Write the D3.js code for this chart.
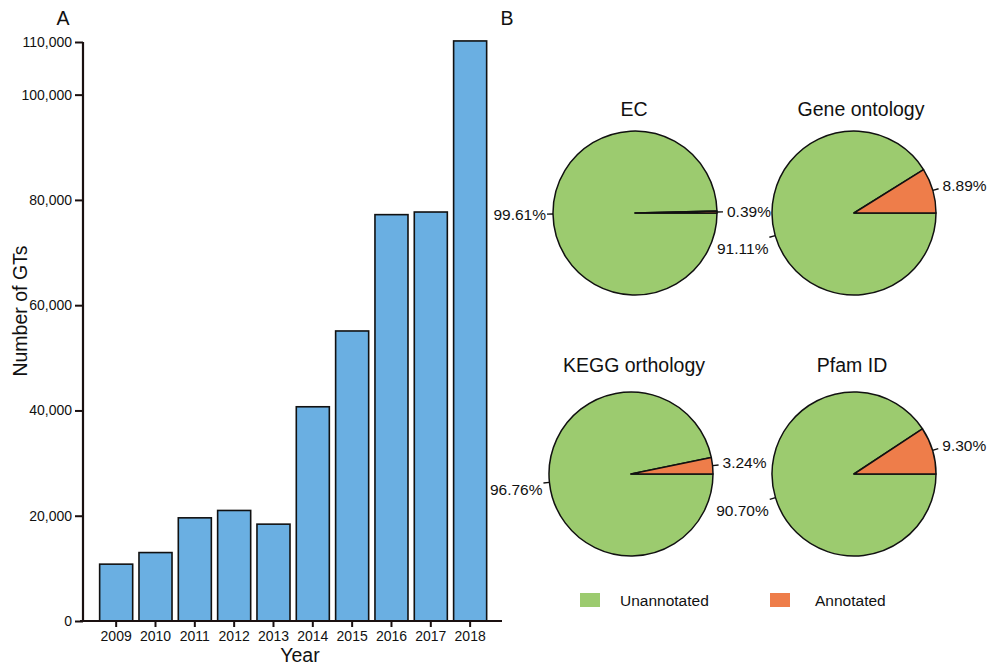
<!DOCTYPE html>
<html>
<head>
<meta charset="utf-8">
<script src="https://cdn.jsdelivr.net/npm/d3@7"></script>
<style>
  html, body { margin: 0; padding: 0; background: #fff; }
  svg { display: block; font-family: "Liberation Sans", Arial, Helvetica, sans-serif; }
</style>
</head>
<body>
<svg id="chart" width="988" height="665"></svg>
<script>
// ---------- data ----------
const years = ["2009","2010","2011","2012","2013","2014","2015","2016","2017","2018"];
const gtCounts = [10800, 13000, 19600, 21000, 18400, 40700, 55100, 77200, 77700, 110200];
const yTickValues = [0, 20000, 40000, 60000, 80000, 100000, 110000];

const pieTitles = ["EC", "Gene ontology", "KEGG orthology", "Pfam ID"];
const unannotatedPct = [99.61, 91.11, 96.76, 90.70];
const annotatedPct = [0.39, 8.89, 3.24, 9.30];
const legendLabels = ["Unannotated", "Annotated"];

const blue = "#6aafe2", green = "#9ccb6f", orange = "#ee7d4a";

const svg = d3.select("#chart");

// ---------- panel A: bar chart ----------
const x = d3.scaleBand().domain(years).range([96.5, 489.8]).paddingInner(0.16).paddingOuter(0.08);
const y = d3.scaleLinear().domain([0, 110000]).range([621, 42]);

svg.append("g").selectAll("rect").data(years).join("rect")
  .attr("x", d => x(d))
  .attr("y", (d, i) => y(gtCounts[i]))
  .attr("width", x.bandwidth())
  .attr("height", (d, i) => y(0) - y(gtCounts[i]))
  .attr("fill", blue)
  .attr("stroke", "#111")
  .attr("stroke-width", 1.6);

const yAxis = svg.append("g").attr("transform", "translate(83,0)")
  .call(d3.axisLeft(y).tickValues(yTickValues).tickSize(8).tickPadding(3).tickFormat(d3.format(",")));
yAxis.select(".domain").attr("stroke", "#1a1010").attr("stroke-width", 2.2).attr("d", "M0,621V42");
yAxis.selectAll(".tick line").attr("stroke", "#1a1010").attr("stroke-width", 2);
yAxis.selectAll(".tick text").attr("font-size", 14).attr("fill", "#111").attr("font-family", "Liberation Sans, Arial, sans-serif");

const xAxis = svg.append("g").attr("transform", "translate(0,621)")
  .call(d3.axisBottom(x).tickSize(6).tickPadding(4));
xAxis.select(".domain").attr("stroke", "#1a1010").attr("stroke-width", 2.2).attr("d", "M80,0H502");
xAxis.selectAll(".tick line").attr("stroke", "#1a1010").attr("stroke-width", 2);
xAxis.selectAll(".tick text").attr("font-size", 14).attr("fill", "#111").attr("font-family", "Liberation Sans, Arial, sans-serif");

svg.append("text").attr("x", 300).attr("y", 662).attr("text-anchor", "middle")
  .attr("font-size", 19.5).attr("fill", "#111").text("Year");
svg.append("text").attr("transform", "translate(27,311) rotate(-90)").attr("text-anchor", "middle")
  .attr("font-size", 19.5).attr("fill", "#111").text("Number of GTs");

svg.append("text").attr("x", 63).attr("y", 25).attr("text-anchor", "middle")
  .attr("font-size", 19.5).attr("fill", "#111").text("A");
svg.append("text").attr("x", 507).attr("y", 25).attr("text-anchor", "middle")
  .attr("font-size", 19.5).attr("fill", "#111").text("B");

// ---------- panel B: pies ----------
const pieCenters = [[635, 213], [854, 213], [631, 474], [854, 474]];
const titleY = [116, 116, 372, 372];
const titleX = [634, 861, 634, 852];
const R = 82;
const pie = d3.pie().sort(null).value(d => d.v).startAngle(Math.PI / 2).endAngle(Math.PI / 2 + 2 * Math.PI);
const arc = d3.arc().innerRadius(0).outerRadius(R);

pieTitles.forEach((t, i) => {
  const g = svg.append("g").attr("transform", `translate(${pieCenters[i][0]},${pieCenters[i][1]})`);
  const data = [
    { v: unannotatedPct[i], c: green, label: unannotatedPct[i].toFixed(2) + "%" },
    { v: annotatedPct[i], c: orange, label: annotatedPct[i].toFixed(2) + "%" }
  ];
  const arcs = pie(data);
  g.selectAll("path").data(arcs).join("path")
    .attr("d", arc)
    .attr("fill", d => d.data.c)
    .attr("stroke", "#111")
    .attr("stroke-width", 1.5)
    .attr("stroke-linejoin", "round");

  arcs.forEach(a => {
    const m = (a.startAngle + a.endAngle) / 2;
    const sx = Math.sin(m), sy = -Math.cos(m);
    const p0 = [sx * R, sy * R], p1 = [sx * (R + 6), sy * (R + 6)];
    g.append("line").attr("x1", p0[0]).attr("y1", p0[1]).attr("x2", p1[0]).attr("y2", p1[1])
      .attr("stroke", "#111").attr("stroke-width", 1.4);
    const right = sx > 0;
    let tx, ty;
    if (right) {
      tx = p1[0] + 4;
      ty = p1[1] - Math.min(Math.abs(sy) * 30, 3);
    } else {
      tx = p1[0] - 1;
      ty = p1[1] + Math.min(Math.abs(sy) * 65, 11);
    }
    g.append("text").attr("x", tx).attr("y", ty)
      .attr("text-anchor", right ? "start" : "end")
      .attr("dominant-baseline", "central")
      .attr("font-size", 15.5).attr("fill", "#111")
      .text(a.data.label);
  });

  svg.append("text").attr("x", titleX[i]).attr("y", titleY[i]).attr("text-anchor", "middle")
    .attr("font-size", 19.5).attr("fill", "#111").text(t);
});

// legend
const legendX = [580, 770];
const legendColors = [green, orange];
legendLabels.forEach((l, i) => {
  svg.append("rect").attr("x", legendX[i]).attr("y", 593).attr("width", 20).attr("height", 14)
    .attr("fill", legendColors[i]);
  svg.append("text").attr("x", legendX[i] + 40 + (i === 1 ? 5 : 0)).attr("y", 600)
    .attr("dominant-baseline", "central").attr("font-size", 15.5).attr("fill", "#111").text(l);
});
</script>
</body>
</html>
